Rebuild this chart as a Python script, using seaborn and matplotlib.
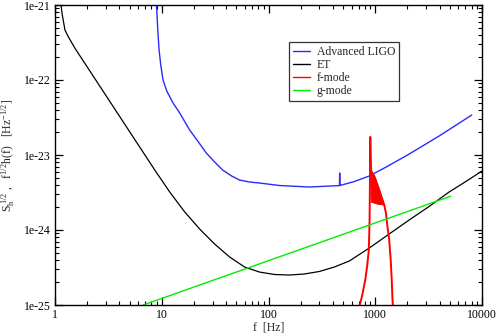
import matplotlib

matplotlib.use("Agg")

import matplotlib.pyplot as plt
import pandas as pd
import seaborn as sns

# Advanced LIGO noise curve, sqrt(S_h)
ligo_f = [8.92, 8.98, 9.18, 9.44, 9.79, 10.28, 11.14, 12.76, 14.73, 18.27,
          21.70, 26.17, 31.29, 37.16, 45.10, 53.58, 66.44, 82.4, 126.7, 241.7,
          441.6, 462, 464.5, 467, 636.6, 879, 1267, 2079, 3964, 8011]
ligo_s = [1.0e-21, 8.58e-22, 4.64e-22, 2.51e-22, 1.58e-22, 1.0e-22, 7.13e-23,
          4.93e-23, 3.63e-23, 2.15e-23, 1.54e-23, 1.06e-23, 8.07e-24, 6.31e-24,
          5.25e-24, 4.64e-24, 4.36e-24, 4.23e-24, 3.92e-24, 3.74e-24, 3.90e-24,
          3.91e-24, 5.75e-24, 3.92e-24, 4.43e-24, 5.25e-24, 6.92e-24, 1.03e-23,
          1.79e-23, 3.41e-23]

# Einstein Telescope noise curve
et_f = [1.138, 1.170, 1.240, 1.331, 1.538, 2.634, 5.02, 8.60, 11.88, 16.41,
        22.66, 31.29, 43.20, 59.67, 82.4, 113.8, 157.1, 217.0, 299.7, 413.9,
        571.5, 879, 1351, 2079, 3197, 4916, 6936, 10000]
et_s = [1.0e-21, 7.36e-22, 4.64e-22, 3.78e-22, 2.65e-22, 8.24e-23, 2.03e-23,
        6.31e-24, 3.21e-24, 1.74e-24, 1.03e-24, 6.50e-25, 4.37e-25, 3.21e-25,
        2.75e-25, 2.55e-25, 2.51e-25, 2.59e-25, 2.80e-25, 3.21e-25, 3.86e-25,
        5.75e-25, 8.85e-25, 1.36e-24, 2.06e-24, 3.21e-24, 4.36e-24, 6.12e-24]

# f-mode signal f^1/2 |h(f)|: main trace
fmode_f = [708.8, 756, 806, 842, 870, 885, 892, 898, 910, 917.6,
           979.0, 1066.6, 1162.6, 1213.6, 1259, 1295, 1351, 1396, 1427, 1451, 1464]
fmode_s = [9.4e-26, 1.36e-25, 2.16e-25, 3.41e-25, 5.41e-25, 1.36e-24, 4.64e-24,
           1.74e-23, 7.4e-24, 5.93e-24,
           5.25e-24, 3.74e-24, 2.59e-24, 2.16e-24, 1.69e-24, 1.17e-24, 7.36e-25,
           3.98e-25, 2.16e-25, 1.17e-25, 9.7e-26]
# f-mode: envelope of the fast-oscillating part just above the peak
fmode_band_f = [907.7, 937.6, 979.0, 1021.7, 1066.6, 1113.5, 1162.6, 1213.6,
                1044.0, 917.6]
fmode_band_s = [6.31e-24, 5.93e-24, 5.25e-24, 4.50e-24, 3.74e-24, 3.11e-24,
                2.59e-24, 2.16e-24, 2.22e-24, 2.36e-24]

# g-mode signal
gmode_f = [6.7, 5090]
gmode_s = [1.0e-25, 2.82e-24]

x_ticks = [1, 10, 100, 1000, 10000]
x_tick_labels = ["1", "10", "100", "1000", "10000"]
y_ticks = [1e-25, 1e-24, 1e-23, 1e-22, 1e-21]
y_tick_labels = ["1e-25", "1e-24", "1e-23", "1e-22", "1e-21"]

sns.set_theme(style="ticks")
plt.rcParams.update({
    "font.family": ["Liberation Serif", "DejaVu Serif"],
    "mathtext.fontset": "custom",
    "mathtext.rm": "Liberation Serif",
    "mathtext.it": "Liberation Serif:italic",
    "font.size": 8.5,
    "axes.linewidth": 1.0,
    "axes.edgecolor": "black",
})

fig = plt.figure(figsize=(4.98, 3.33), dpi=100)
ax = fig.add_axes([55 / 498, 1 - 305 / 333, 427 / 498, 300 / 333])

series = [
    ("Advanced LIGO", ligo_f, ligo_s, "#2a2aff", 1.0),
    ("ET", et_f, et_s, "black", 0.9),
    ("f-mode", fmode_f, fmode_s, "#ff0000", 1.4),
    ("g-mode", gmode_f, gmode_s, "#00ee00", 1.0),
]
for name, f, s, color, lw in series:
    df = pd.DataFrame({"f": f, "S": s})
    sns.lineplot(data=df, x="f", y="S", sort=False, estimator=None,
                 color=color, linewidth=lw, label=name, ax=ax)
    if name == "f-mode":
        ax.fill(fmode_band_f, fmode_band_s, color="#ff0000", linewidth=0.8)

ax.set_xscale("log")
ax.set_yscale("log")
ax.set_xlim(1, 10000)
ax.set_ylim(1e-25, 1e-21)
ax.set_xticks(x_ticks, x_tick_labels)
ax.set_yticks(y_ticks, y_tick_labels)
ax.tick_params(which="both", direction="in", top=True, right=True,
               labelsize=8.5, colors="black", pad=3)
ax.tick_params(which="major", length=6, width=0.9)
ax.tick_params(which="minor", length=3, width=0.8)

ax.set_xlabel("f  [Hz]", fontsize=8.5, labelpad=0)
ax.set_ylabel(r"S$_\mathrm{h}^{\;1/2}$ ,   f$^{1/2}$h(f)   [Hz$^{-1/2}$]",
              fontsize=8.5, labelpad=4)

leg = ax.legend(loc="upper left", bbox_to_anchor=(234 / 427, 1 - 37 / 300),
                fontsize=8.5, frameon=True, fancybox=False, framealpha=1,
                edgecolor="#333333", borderpad=0.35, handlelength=1.4,
                handletextpad=0.6, labelspacing=0.08, borderaxespad=0)
leg.get_frame().set_linewidth(0.9)
for line in leg.get_lines():
    line.set_linewidth(1.0)

plt.savefig("out.png", dpi=100)
plt.close()
